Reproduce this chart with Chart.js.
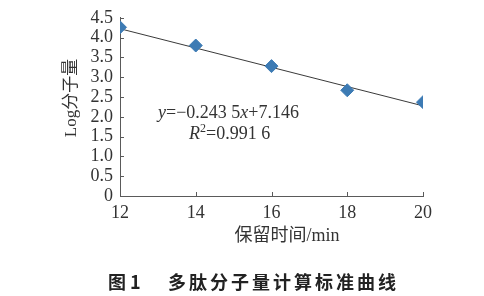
<!DOCTYPE html>
<html>
<head>
<meta charset="utf-8">
<script src="https://cdn.jsdelivr.net/npm/chart.js@4.4.0/dist/chart.umd.min.js"></script>
<style>
  html, body { margin: 0; padding: 0; background: #fff; }
  #wrap { position: relative; width: 484px; height: 296px; }
</style>
</head>
<body>
<div id="wrap"><canvas id="chart" width="484" height="296"></canvas></div>
<script>
// retention time (min) and Log molecular weight
const retentionTimes = [12, 14, 16, 18, 20];
const logWeights = [4.26, 3.80, 3.28, 2.67, 2.37];

// fitted line end points (y = -0.2435x + 7.146)
const fitX = [12, 20];
const fitY = [4.224, 2.276];

const xTicks = [12, 14, 16, 18, 20];
const yTicks = [0, 0.5, 1, 1.5, 2, 2.5, 3, 3.5, 4, 4.5];

const yTitle = 'Log分子量';
const xTitle = '保留时间/min';
const caption = ['图 1', '多肽分子量计算标准曲线'];

const serif = '"Liberation Serif", "Times New Roman", "Noto Sans CJK SC", serif';
const axisColor = '#5a5a5a';

// ticks pointing inward, titles, equation and caption
const extras = {
  id: 'extras',
  afterDraw(chart) {
    const ctx = chart.ctx;
    const xs = chart.scales.x, ys = chart.scales.y;
    ctx.save();
    ctx.strokeStyle = axisColor;
    ctx.lineWidth = 1;
    ctx.beginPath();
    xTicks.forEach(v => {
      const px = Math.round(xs.getPixelForValue(v)) + 0.5;
      ctx.moveTo(px, ys.bottom);
      ctx.lineTo(px, ys.bottom - 4);
    });
    yTicks.forEach(v => {
      const py = Math.round(ys.getPixelForValue(v)) + 0.5;
      ctx.moveTo(xs.left, py);
      ctx.lineTo(xs.left + 4, py);
    });
    ctx.stroke();

    ctx.fillStyle = '#333';
    // y title
    ctx.save();
    ctx.translate(72, 98);
    ctx.rotate(-Math.PI / 2);
    ctx.font = '17px ' + serif;
    ctx.textAlign = 'center';
    ctx.textBaseline = 'middle';
    ctx.fillText(yTitle, 0, 0);
    ctx.restore();

    // x title
    ctx.font = '18px ' + serif;
    ctx.textAlign = 'center';
    ctx.textBaseline = 'middle';
    ctx.fillText(xTitle, 287, 236);

    // equation
    ctx.textAlign = 'left';
    ctx.textBaseline = 'middle';
    let x = 158;
    const parts = [['y', true], ['=\u22120.243 5', false], ['x', true], ['+7.146', false]];
    parts.forEach(([t, it]) => {
      ctx.font = (it ? 'italic ' : '') + '18px ' + serif;
      ctx.fillText(t, x, 113);
      x += ctx.measureText(t).width;
    });
    x = 189;
    ctx.font = 'italic 18px ' + serif;
    ctx.fillText('R', x, 134);
    x += ctx.measureText('R').width;
    ctx.font = '12px ' + serif;
    ctx.fillText('2', x, 129);
    x += ctx.measureText('2').width;
    ctx.font = '18px ' + serif;
    ctx.fillText('=0.991 6', x, 134);

    // caption
    ctx.fillStyle = '#222';
    ctx.font = 'bold 18px "Noto Sans CJK SC", sans-serif';
    ctx.fillText(caption[0], 108, 282);
    ctx.letterSpacing = '3px';
    ctx.fillText(caption[1], 168, 282);
    ctx.restore();
  }
};

new Chart(document.getElementById('chart'), {
  type: 'scatter',
  data: {
    datasets: [{
      label: 'data',
      data: retentionTimes.map((t, i) => ({ x: t, y: logWeights[i] })),
      pointStyle: 'rectRot',
      pointRadius: 6.5,
      pointBackgroundColor: '#3d7bb4',
      pointBorderColor: '#3d7bb4',
      showLine: false
    }, {
      label: 'fit',
      data: fitX.map((t, i) => ({ x: t, y: fitY[i] })),
      showLine: true,
      borderColor: '#3a3a3a',
      borderWidth: 1,
      pointRadius: 0
    }]
  },
  plugins: [extras],
  options: {
    responsive: false,
    animation: false,
    layout: { padding: { left: 0, right: 61, top: 14, bottom: 0 } },
    plugins: { legend: { display: false }, tooltip: { enabled: false } },
    scales: {
      x: {
        type: 'linear',
        min: 12, max: 20,
        afterBuildTicks: s => { s.ticks = xTicks.map(v => ({ value: v })); },
        afterFit: s => { s.height = 100; },
        grid: { display: false, drawTicks: false },
        border: { color: axisColor, width: 1 },
        ticks: { color: '#333', font: { family: serif, size: 18 }, padding: 6, maxRotation: 0, autoSkip: false }
      },
      y: {
        min: 0, max: 4.5,
        afterBuildTicks: s => { s.ticks = yTicks.map(v => ({ value: v })); },
        afterFit: s => { s.width = 120; },
        grid: { display: false, drawTicks: false },
        border: { color: axisColor, width: 1 },
        ticks: {
          color: '#333', font: { family: serif, size: 18 }, padding: 7, autoSkip: false,
          callback: v => v === 0 ? '0' : v.toFixed(1)
        }
      }
    }
  }
});
</script>
</body>
</html>
